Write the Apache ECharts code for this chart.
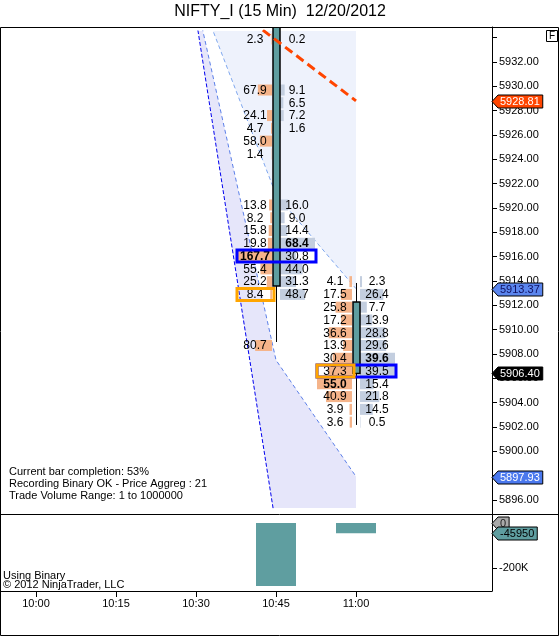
<!DOCTYPE html>
<html>
<head>
<meta charset="utf-8">
<title>NIFTY_I (15 Min) 12/20/2012</title>
<script src="https://cdn.jsdelivr.net/npm/echarts@6.0.0/dist/echarts.min.js"></script>
<style>
  html, body { margin: 0; padding: 0; background: #fff; }
  #chart { width: 560px; height: 637px; }
</style>
</head>
<body>
<div id="chart"></div>
<script>
// x = minutes after 10:00
var timeTicks = [0, 15, 30, 45, 60];
var timeLabels = ['10:00', '10:15', '10:30', '10:45', '11:00'];

// price axis ticks / labels
var priceTicks = [5896, 5898, 5900, 5902, 5904, 5906, 5908, 5910, 5912, 5914, 5916,
                  5918, 5920, 5922, 5924, 5926, 5928, 5930, 5932, 5934];
var priceLabels = [5896, 5898, 5900, 5902, 5904, 5906, 5908, 5910, 5912, 5914, 5916,
                   5918, 5920, 5922, 5924, 5926, 5928, 5930, 5932];
var volumeLabels = [-200000];

// footprint price levels (Price Aggreg 21 ticks)
var levels = [5933.90, 5932.85, 5931.80, 5930.75, 5929.70, 5928.65, 5927.60, 5926.55,
              5925.50, 5924.45, 5923.40, 5922.35, 5921.30, 5920.25, 5919.20, 5918.15,
              5917.10, 5916.05, 5915.00, 5913.95, 5912.90, 5911.85, 5910.80, 5909.75,
              5908.70, 5907.65, 5906.60, 5905.55, 5904.50, 5903.45, 5902.40];

var barTimes = [45, 60];
var barFirstLevel = [0, 19];

// 10:45 bar, levels 0..24
var bar1Bid = [2.3, null, null, null, 67.9, null, 24.1, 4.7, 58.0, 1.4, null, null, null,
               13.8, 8.2, 15.8, 19.8, 167.7, 55.4, 25.2, 8.4, null, null, null, 80.7];
var bar1Ask = [0.2, null, null, null, 9.1, 6.5, 7.2, 1.6, null, null, null, null, null,
               16.0, 9.0, 14.4, 68.4, 30.8, 44.0, 31.3, 48.7, null, null, null, null];
// 11:00 bar, levels 19..30
var bar2Bid = [4.1, 17.5, 25.8, 17.2, 36.6, 13.9, 30.4, 37.3, 55.0, 40.9, 3.9, 3.6];
var bar2Ask = [2.3, 26.4, 7.7, 13.9, 28.8, 29.6, 39.6, 39.5, 15.4, 21.8, 14.5, 0.5];

var bidVolumes = [bar1Bid, bar2Bid];
var askVolumes = [bar1Ask, bar2Ask];

// boxes: max volume level and marked level of each bar
var pocLevel = [17, 26];
var markLevel = [20, 26];

// candles
var opens = [5936.5, 5912.28];
var closes = [5913.59, 5906.40];
var lows = [5908.99, 5902.17];
var highs = [5937.0, 5913.84];

// delta volume panel
var deltaVolume = [-280000, -45950];

// bands and trend line at 10:30, 10:45, 11:00
var bandTimes = [30, 45, 60];
var upperBandTop = [5950.0, 5945.0, 5940.0];
var upperBandLow = [5938.2, 5921.1, 5913.37];
var lowerBandHigh = [5937.1, 5907.5, 5897.93];
var lowerBandLow = [5935.6, 5893.8, 5884.0];
var trendLine = [5938.8, 5933.8, 5928.81];

// last value tags
var priceTags = [5928.81, 5913.37, 5906.40, 5897.93];
var volumeTags = [0, -45950];

// ---- styles / layout ----
var FONT = '"Liberation Sans", Arial, sans-serif';
var BID_COLOR = '#F5B48A';
var ASK_COLOR = '#C3CEDF';
var TEAL = '#5F9EA0';
var priceTagFill = ['#FF4500', '#5B86EE', '#000000', '#4A78EE'];
var priceTagText = ['#ffffff', '#101060', '#ffffff', '#ffffff'];
var volumeTagFill = ['#A9A9A9', TEAL];
var volumeTagText = ['#222222', '#000000'];

var PLOT_LEFT = 1, PLOT_W = 491;
var PRICE_TOP = 27, PRICE_H = 487;
var VOL_TOP = 514, VOL_H = 77;
var BAND_TOP = 31, BAND_H = 477;
var PRICE_MAX = 5934.88, PRICE_MIN = 5894.85;
var pxPerPoint = PRICE_H / (PRICE_MAX - PRICE_MIN);
var BAND_MAX = PRICE_MAX - (BAND_TOP - PRICE_TOP) / pxPerPoint;
var BAND_MIN = BAND_MAX - BAND_H / pxPerPoint;
var X_MIN = -6.5625, X_MAX = 85.5;
var VOL_MAX = 40000, VOL_MIN = -302222;

var measureCtx = document.createElement('canvas').getContext('2d');
function textWidth(s, size) {
    measureCtx.font = size + 'px ' + FONT;
    return measureCtx.measureText(s).width;
}

// footprint cells
var cells = [];
for (var b = 0; b < barTimes.length; b++) {
    var bids = bidVolumes[b], asks = askVolumes[b];
    var bidMax = Math.max.apply(null, bids.filter(function (v) { return v != null; }));
    var askMax = Math.max.apply(null, asks.filter(function (v) { return v != null; }));
    for (var i = 0; i < bids.length; i++) {
        if (bids[i] == null && asks[i] == null) continue;
        cells.push({ t: barTimes[b], price: levels[barFirstLevel[b] + i],
                     bid: bids[i], ask: asks[i], bidMax: bidMax, askMax: askMax });
    }
}

function renderCell(params, api) {
    var c = cells[params.dataIndex];
    var p = api.coord([c.t, c.price]);
    var cx = Math.round(p[0]), cy = p[1];
    var h = 11, maxW = 35;
    var kids = [];
    if (c.bid != null) {
        var wb = c.bid / c.bidMax * maxW;
        kids.push({ type: 'rect', shape: { x: cx - 4 - wb, y: cy - h / 2, width: wb, height: h },
                    style: { fill: BID_COLOR } });
        kids.push({ type: 'text', style: { text: c.bid.toFixed(1), x: cx - 21, y: cy + 0.5,
                    align: 'center', verticalAlign: 'middle', fill: '#000',
                    font: (c.bid === c.bidMax ? 'bold ' : '') + '12px ' + FONT } });
    }
    if (c.ask != null) {
        var wa = c.ask / c.askMax * maxW;
        kids.push({ type: 'rect', shape: { x: cx + 4, y: cy - h / 2, width: wa, height: h },
                    style: { fill: ASK_COLOR } });
        kids.push({ type: 'text', style: { text: c.ask.toFixed(1), x: cx + 21, y: cy + 0.5,
                    align: 'center', verticalAlign: 'middle', fill: '#000',
                    font: (c.ask === c.askMax ? 'bold ' : '') + '12px ' + FONT } });
    }
    return { type: 'group', children: kids };
}

function renderCandle(params, api) {
    var t = api.value(0);
    var o = api.coord([t, api.value(1)]), c = api.coord([t, api.value(2)]);
    var lo = api.coord([t, api.value(3)]), hi = api.coord([t, api.value(4)]);
    var x = Math.round(o[0]) + 0.5;
    var top = Math.min(o[1], c[1]), bot = Math.max(o[1], c[1]);
    return { type: 'group', children: [
        { type: 'line', shape: { x1: x, y1: hi[1], x2: x, y2: lo[1] }, style: { stroke: '#000', lineWidth: 1 } },
        { type: 'rect', shape: { x: x - 3.5, y: top, width: 7, height: bot - top },
          style: { fill: TEAL, stroke: '#000', lineWidth: 1.5 } }
    ] };
}

function boxRenderer(color, x0, x1) {
    return function (params, api) {
        var p = api.coord([api.value(0), api.value(1)]);
        var cx = Math.round(p[0]);
        return { type: 'rect', shape: { x: cx + x0, y: p[1] - 6, width: x1 - x0, height: 12 },
                 style: { fill: 'none', stroke: color, lineWidth: 3 } };
    };
}

function bandRenderer(top, bottom, fill) {
    return function (params, api) {
        var pts = [];
        for (var i = 0; i < bandTimes.length; i++) pts.push(api.coord([bandTimes[i], top[i]]));
        for (var j = bandTimes.length - 1; j >= 0; j--) pts.push(api.coord([bandTimes[j], bottom[j]]));
        return { type: 'polygon', shape: { points: pts }, style: { fill: fill } };
    };
}

function tagRenderer(fills, textColors, fmt) {
    return function (params, api) {
        var i = params.dataIndex;
        var cs = params.coordSys;
        var x0 = cs.x + cs.width;
        var cy = Math.round(api.coord([api.value(0), api.value(1)])[1]) + 0.5;
        var label = fmt(api.value(1));
        var w = textWidth(label, 11) + 5;
        return { type: 'group', children: [
            { type: 'polygon', shape: { points: [[x0, cy], [x0 + 6, cy - 6.5], [x0 + 6 + w, cy - 6.5],
                                                 [x0 + 6 + w, cy + 6.5], [x0 + 6, cy + 6.5]] },
              style: { fill: fills[i], stroke: '#000', lineWidth: 1 } },
            { type: 'text', style: { text: label, x: x0 + 8, y: cy + 0.5, align: 'left', verticalAlign: 'middle',
                                     font: '11px ' + FONT, fill: textColors[i] } }
        ] };
    };
}

function pairs(xs, ys) {
    return xs.map(function (x, i) { return [x, ys[i]]; });
}

var axisFont = { color: '#000', fontSize: 11, fontFamily: FONT };
var blackLine = { show: true, onZero: false, lineStyle: { color: '#000', width: 1 } };

var chart = echarts.init(document.getElementById('chart'), null, { renderer: 'canvas' });

var option = {
    animation: false,
    backgroundColor: '#fff',
    grid: [
        { left: PLOT_LEFT, top: PRICE_TOP, width: PLOT_W, height: PRICE_H, outerBoundsMode: 'none' },
        { left: PLOT_LEFT, top: VOL_TOP, width: PLOT_W, height: VOL_H, outerBoundsMode: 'none' },
        { left: PLOT_LEFT, top: BAND_TOP, width: PLOT_W, height: BAND_H, outerBoundsMode: 'none' }
    ],
    xAxis: [
        { type: 'value', gridIndex: 0, min: X_MIN, max: X_MAX, show: false },
        { type: 'value', gridIndex: 1, min: X_MIN, max: X_MAX, position: 'bottom',
          axisLine: blackLine,
          axisTick: { show: true, customValues: timeTicks, length: 6, lineStyle: { color: '#000' } },
          axisLabel: Object.assign({ customValues: timeTicks, margin: 7,
              formatter: function (v) { return timeLabels[timeTicks.indexOf(v)]; } }, axisFont),
          splitLine: { show: false } },
        { type: 'value', gridIndex: 2, min: X_MIN, max: X_MAX, show: false }
    ],
    yAxis: [
        { type: 'value', gridIndex: 0, position: 'right', min: PRICE_MIN, max: PRICE_MAX,
          axisLine: blackLine,
          axisTick: { show: true, customValues: priceTicks, length: 5, lineStyle: { color: '#000' } },
          axisLabel: Object.assign({ customValues: priceLabels, margin: 7,
              formatter: function (v) { return v.toFixed(2); } }, axisFont),
          splitLine: { show: false } },
        { type: 'value', gridIndex: 1, position: 'right', min: VOL_MIN, max: VOL_MAX,
          axisLine: blackLine,
          axisTick: { show: true, customValues: volumeLabels, length: 5, lineStyle: { color: '#000' } },
          axisLabel: Object.assign({ customValues: volumeLabels, margin: 7,
              formatter: function (v) { return Math.round(v / 1000) + 'K'; } }, axisFont),
          splitLine: { show: false } },
        { type: 'value', gridIndex: 2, min: BAND_MIN, max: BAND_MAX, show: false }
    ],
    series: [
        { type: 'custom', name: 'upper band', xAxisIndex: 2, yAxisIndex: 2, clip: true, z: 1,
          renderItem: bandRenderer(upperBandTop, upperBandLow, '#EEF2FC'),
          data: [[bandTimes[0], upperBandLow[0]]], silent: true },
        { type: 'custom', name: 'lower band', xAxisIndex: 2, yAxisIndex: 2, clip: true, z: 1,
          renderItem: bandRenderer(lowerBandHigh, lowerBandLow, '#E6E6FA'),
          data: [[bandTimes[0], lowerBandLow[0]]], silent: true },
        { type: 'line', xAxisIndex: 2, yAxisIndex: 2, z: 2, symbol: 'none', silent: true,
          data: pairs(bandTimes, upperBandLow),
          lineStyle: { color: '#7FA7EE', width: 1, type: [4, 3] } },
        { type: 'line', xAxisIndex: 2, yAxisIndex: 2, z: 2, symbol: 'none', silent: true,
          data: pairs(bandTimes, lowerBandHigh),
          lineStyle: { color: '#5B7FE8', width: 1, type: [4, 3] } },
        { type: 'line', xAxisIndex: 2, yAxisIndex: 2, z: 2, symbol: 'none', silent: true,
          data: pairs(bandTimes, lowerBandLow),
          lineStyle: { color: '#0000EE', width: 1, type: [4, 2] } },
        { type: 'custom', name: 'footprint', xAxisIndex: 0, yAxisIndex: 0, clip: true, z: 3,
          renderItem: renderCell, silent: true,
          data: cells.map(function (c) { return [c.t, c.price]; }) },
        { type: 'custom', name: 'candles', xAxisIndex: 0, yAxisIndex: 0, clip: true, z: 4,
          renderItem: renderCandle, silent: true,
          data: barTimes.map(function (t, i) { return [t, opens[i], closes[i], lows[i], highs[i]]; }) },
        { type: 'custom', name: 'poc', xAxisIndex: 0, yAxisIndex: 0, clip: true, z: 5,
          renderItem: boxRenderer('#0000FF', -39, 40), silent: true,
          data: barTimes.map(function (t, i) { return [t, levels[pocLevel[i]]]; }) },
        { type: 'custom', name: 'mark', xAxisIndex: 0, yAxisIndex: 0, clip: true, z: 6,
          renderItem: boxRenderer('#FFA500', -39, -2), silent: true,
          data: barTimes.map(function (t, i) { return [t, levels[markLevel[i]]]; }) },
        { type: 'line', xAxisIndex: 2, yAxisIndex: 2, z: 7, symbol: 'none', silent: true,
          data: pairs(bandTimes, trendLine),
          lineStyle: { color: '#FF4500', width: 3, type: [9, 5] } },
        { type: 'bar', xAxisIndex: 1, yAxisIndex: 1, barWidth: 40, silent: true,
          itemStyle: { color: TEAL },
          data: pairs(barTimes, deltaVolume) },
        { type: 'custom', name: 'price tags', xAxisIndex: 0, yAxisIndex: 0, clip: false, z: 10,
          renderItem: tagRenderer(priceTagFill, priceTagText, function (v) { return v.toFixed(2); }),
          silent: true, data: priceTags.map(function (v) { return [X_MAX, v]; }) },
        { type: 'custom', name: 'volume tags', xAxisIndex: 1, yAxisIndex: 1, clip: false, z: 10,
          renderItem: tagRenderer(volumeTagFill, volumeTagText, function (v) { return String(v); }),
          silent: true, data: volumeTags.map(function (v) { return [X_MAX, v]; }) }
    ],
    graphic: [
        { type: 'text', left: 'center', top: 4, z: 100,
          style: { text: 'NIFTY_I (15 Min)  12/20/2012', font: '16px ' + FONT, fill: '#000' } },
        // frame
        { type: 'rect', z: 100, shape: { x: 0.5, y: 27.5, width: 558, height: 608 },
          style: { fill: 'none', stroke: '#000', lineWidth: 1 } },
        { type: 'line', z: 100, shape: { x1: 0, y1: 514.5, x2: 559, y2: 514.5 },
          style: { stroke: '#000', lineWidth: 1 } },
        { type: 'rect', z: 100, shape: { x: 546.5, y: 30.5, width: 11, height: 11 },
          style: { fill: '#fff', stroke: '#000', lineWidth: 1 } },
        { type: 'text', z: 101, x: 552, y: 36.5,
          style: { text: 'F', font: '10px ' + FONT, fill: '#000', align: 'center', verticalAlign: 'middle' } },
        // info text
        { type: 'text', z: 100, x: 9, y: 472,
          style: { text: 'Current bar completion: 53%', font: '11px ' + FONT, fill: '#000', verticalAlign: 'middle' } },
        { type: 'text', z: 100, x: 9, y: 484,
          style: { text: 'Recording Binary OK - Price Aggreg : 21', font: '11px ' + FONT, fill: '#000', verticalAlign: 'middle' } },
        { type: 'text', z: 100, x: 9, y: 496,
          style: { text: 'Trade Volume Range: 1 to 1000000', font: '11px ' + FONT, fill: '#000', verticalAlign: 'middle' } },
        { type: 'text', z: 100, x: 3, y: 576,
          style: { text: 'Using Binary', font: '11px ' + FONT, fill: '#000', verticalAlign: 'middle' } },
        { type: 'text', z: 100, x: 3, y: 585,
          style: { text: '\u00A9 2012 NinjaTrader, LLC', font: '11px ' + FONT, fill: '#000', verticalAlign: 'middle' } }
    ]
};

chart.setOption(option);
</script>
</body>
</html>
